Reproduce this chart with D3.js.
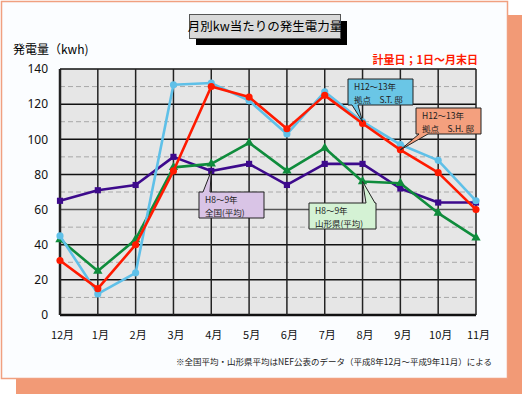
<!DOCTYPE html>
<html>
  <head>
    <meta charset="utf-8">
    <title>月別kw当たりの発生電力量</title>
    <script src="https://d3js.org/d3.v7.min.js"></script>
    <style>
      body { margin: 0; background: #fff; }
      svg { display: block; font-family: "Noto Sans CJK JP", "Noto Sans", sans-serif; }
    </style>
  </head>
  <body>
    <svg id="chart" width="522" height="394"></svg>
    <script>
      // data
      const months = ["12月", "1月", "2月", "3月", "4月", "5月", "6月", "7月", "8月", "9月", "10月", "11月"];
      const yTicks = [0, 20, 40, 60, 80, 100, 120, 140];
      const zenkoku = [65, 71, 74, 90, 82, 86, 74, 86, 86, 72, 64, 64];      // H8~9 全国(平均)
      const yamagata = [43, 25, 43, 84, 86, 98, 82, 95, 76, 75, 58, 44];     // H8~9 山形県(平均)
      const shTei = [31, 15, 40, 82, 130, 124, 106, 125, 109, 94, 81, 60];   // H12~13 拠点 S.H. 邸
      const stTei = [45, 12, 24, 131, 132, 122, 103, 127, 110, 97, 88, 65];  // H12~13 拠点 S.T. 邸

      const svg = d3.select("#chart");
      const margin = { top: 69, right: 46, bottom: 79, left: 60 };
      const width = 522, height = 394;

      // frame: orange shadow + white panel
      svg.append("rect")
        .attr("x", 16).attr("y", 15)
        .attr("width", width - 16).attr("height", height - 15)
        .attr("fill", "#f29a76");
      svg.append("rect")
        .attr("x", 1.5).attr("y", 1.5)
        .attr("width", 506).attr("height", 377)
        .attr("fill", "#fbfdff")
        .attr("stroke", "#f0a080")
        .attr("stroke-width", 1.5);

      // title box
      svg.append("rect")
        .attr("x", 196).attr("y", 21).attr("width", 151).attr("height", 24)
        .attr("fill", "#000");
      svg.append("rect")
        .attr("x", 189.5).attr("y", 14.5).attr("width", 151).attr("height", 24)
        .attr("fill", "#d9d9d9").attr("stroke", "#555").attr("stroke-width", 1);
      svg.append("text")
        .attr("x", 265).attr("y", 31)
        .attr("text-anchor", "middle")
        .style("font-size", "12.5px")
        .text("月別kw当たりの発生電力量");

      svg.append("text")
        .attr("x", 13).attr("y", 54)
        .style("font-size", "12px")
        .text("発電量（kwh)");
      svg.append("text")
        .attr("x", 478).attr("y", 64)
        .attr("text-anchor", "end")
        .attr("fill", "#ff1a00")
        .style("font-size", "11px")
        .style("font-weight", "bold")
        .text("計量日；1日～月末日");

      // scales
      const x = d3.scalePoint()
        .domain(months)
        .range([margin.left, width - margin.right]);
      const y = d3.scaleLinear()
        .domain([0, 140])
        .range([height - margin.bottom, margin.top]);

      // plot background and grid
      svg.append("rect")
        .attr("x", margin.left).attr("y", margin.top)
        .attr("width", x.range()[1] - margin.left)
        .attr("height", y(0) - margin.top)
        .attr("fill", "#e6e6e6");
      const grid = svg.append("g");
      grid.selectAll(".minor")
        .data(d3.range(10, 140, 20))
        .enter().append("line")
          .attr("x1", margin.left).attr("x2", x.range()[1])
          .attr("y1", d => y(d)).attr("y2", d => y(d))
          .attr("stroke", "#a8a8a8")
          .attr("stroke-dasharray", "5,3");
      grid.selectAll(".major")
        .data(yTicks)
        .enter().append("line")
          .attr("x1", margin.left).attr("x2", x.range()[1])
          .attr("y1", d => y(d)).attr("y2", d => y(d))
          .attr("stroke", d => d === 60 ? "#555" : "#111")
          .attr("stroke-width", d => d === 0 ? 2.5 : 1.5);
      grid.selectAll(".vert")
        .data(months)
        .enter().append("line")
          .attr("x1", d => x(d)).attr("x2", d => x(d))
          .attr("y1", margin.top).attr("y2", y(0))
          .attr("stroke", "#222")
          .attr("stroke-width", (d, i) => i === 0 ? 2.5 : 1.5);

      // axes
      const yAxis = d3.axisLeft(y).tickValues(yTicks).tickSize(0).tickPadding(12);
      svg.append("g")
        .attr("transform", "translate(" + margin.left + ",0)")
        .call(yAxis)
        .call(g => g.select(".domain").remove())
        .selectAll("text")
          .style("font-size", "12px")
          .style("font-family", "'Noto Sans', sans-serif")
          .attr("fill", "#111");
      const xAxis = d3.axisBottom(x).tickSize(0).tickPadding(16);
      svg.append("g")
        .attr("transform", "translate(2," + y(0) + ")")
        .call(xAxis)
        .call(g => g.select(".domain").remove())
        .selectAll("text")
          .style("font-size", "11px")
          .style("font-family", "'Noto Sans CJK JP', sans-serif")
          .attr("fill", "#111");

      // series
      const series = [
        { name: "全国", values: zenkoku, color: "#3d0a8c", marker: "square" },
        { name: "山形県", values: yamagata, color: "#0f8c3c", marker: "triangle" },
        { name: "S.T.", values: stTei, color: "#5fc0e8", marker: "circle" },
        { name: "S.H.", values: shTei, color: "#ff1a00", marker: "circle" }
      ];
      const line = d3.line()
        .x((d, i) => x(months[i]))
        .y(d => y(d));
      const symbols = { square: d3.symbolSquare, triangle: d3.symbolTriangle, circle: d3.symbolCircle };
      series.forEach(function(s) {
        const g = svg.append("g");
        g.append("path")
          .attr("d", line(s.values))
          .attr("fill", "none")
          .attr("stroke", s.color)
          .attr("stroke-width", 2.6)
          .attr("stroke-linejoin", "round");
        g.selectAll("path.mark")
          .data(s.values)
          .enter().append("path")
            .attr("class", "mark")
            .attr("transform", (d, i) => "translate(" + x(months[i]) + "," + y(d) + ")")
            .attr("d", d3.symbol().type(symbols[s.marker]).size(s.marker === "circle" ? 40 : 38))
            .attr("fill", s.color);
      });

      // callouts
      const callouts = [
        { lines: ["H12～13年", "拠点　S.T. 邸"], box: [348, 79, 65, 26], base: [352, 358, "bottom"], month: "8月", value: stTei[8], fill: "#6ac6e6" },
        { lines: ["H12～13年", "拠点　S.H. 邸"], box: [416, 108, 65, 26], base: [419, 428, "bottom"], month: "9月", value: shTei[9], fill: "#f4a07e" },
        { lines: ["H8～9年", "全国(平均)"], box: [199, 192, 65, 26], base: [203, 210, "top"], month: "4月", value: zenkoku[4], fill: "#d9c4e6" },
        { lines: ["H8～9年", "山形県(平均)"], box: [309, 203, 67, 26], base: [366, 375, "top"], month: "8月", value: yamagata[8], fill: "#d4f2d4" }
      ];
      callouts.forEach(function(c) {
        const [bx, by, bw, bh] = c.box;
        const tx = x(c.month), ty = y(c.value);
        let p;
        if (c.base[2] === "bottom") {
          p = "M" + bx + "," + by + "H" + (bx + bw) + "V" + (by + bh) +
            "H" + c.base[1] + "L" + tx + "," + ty + "L" + c.base[0] + "," + (by + bh) +
            "H" + bx + "Z";
        } else {
          p = "M" + bx + "," + by + "H" + c.base[0] + "L" + tx + "," + ty + "L" + c.base[1] + "," + by +
            "H" + (bx + bw) + "V" + (by + bh) + "H" + bx + "Z";
        }
        svg.append("path")
          .attr("d", p)
          .attr("fill", c.fill)
          .attr("stroke", "#222")
          .attr("stroke-width", 1);
        c.lines.forEach(function(t, i) {
          svg.append("text")
            .attr("x", bx + 6)
            .attr("y", by + 11 + i * 12.6)
            .style("font-size", "8.5px")
            .attr("fill", "#222")
            .text(t);
        });
      });

      // footnote
      svg.append("text")
        .attr("x", 492).attr("y", 365)
        .attr("text-anchor", "end")
        .style("font-size", "8.5px")
        .attr("fill", "#222")
        .text("※全国平均・山形県平均はNEF公表のデータ（平成8年12月～平成9年11月）による");
    </script>
  </body>
</html>
